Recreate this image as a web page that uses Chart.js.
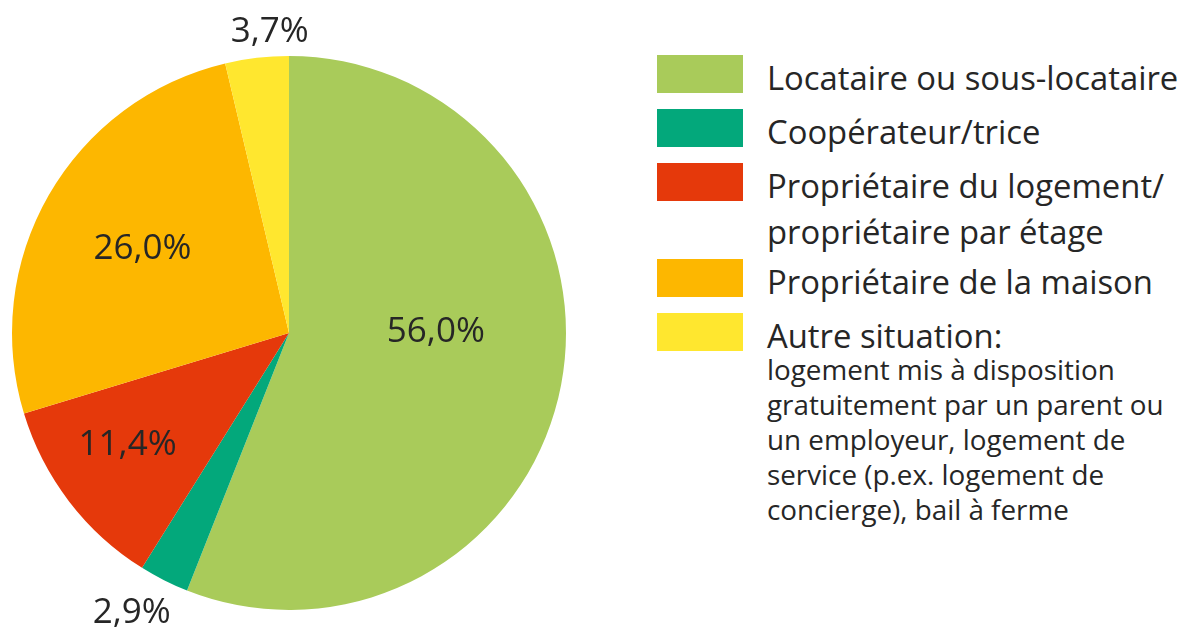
<!DOCTYPE html>
<html>
<head>
<meta charset="utf-8">
<script src="https://cdn.jsdelivr.net/npm/chart.js@4/dist/chart.umd.min.js"></script>
<style>
  body { margin: 0; background: #fff; font-family: "Open Sans", sans-serif; color: #262626; }
  #wrap { position: absolute; left: 0; top: 0; width: 600px; height: 630px; }
  .sq { position: absolute; left: 657px; width: 86px; height: 38px; }
  .lbl { position: absolute; left: 767px; font-size: 32.8px; line-height: 46px; white-space: pre-line; }
  .note { position: absolute; left: 767px; top: 352px; font-size: 27.8px; line-height: 35px; white-space: pre-line; }
</style>
</head>
<body>
<div id="wrap"><canvas id="pie"></canvas></div>
<div id="legend"></div>
<script>
var categories = [
  "Locataire ou sous-locataire",
  "Coopérateur/trice",
  "Propriétaire du logement/\npropriétaire par étage",
  "Propriétaire de la maison",
  "Autre situation:",
];
var shares = [56.0, 2.9, 11.4, 26.0, 3.7];
var noteLines = [
  "logement mis à disposition",
  "gratuitement par un parent ou",
  "un employeur, logement de",
  "service (p.ex. logement de",
  "concierge), bail à ferme",
];

var colors = ["#a9cb5a", "#03a87b", "#e5390b", "#fdb700", "#ffe72f"];
// label placement: radius factor and angle tweak (deg) per slice
var labelRadius = [0.53, 1.16, 0.71, 0.61, 1.09];
var labelTurn = [-11, 2.5, 2.6, 0, 3];
var legendTops = [55, 109, 163, 259, 313];

var legend = document.getElementById("legend");
categories.forEach(function (c, i) {
  var sq = document.createElement("div");
  sq.className = "sq";
  sq.style.top = legendTops[i] + "px";
  sq.style.background = colors[i];
  legend.appendChild(sq);
  var t = document.createElement("div");
  t.className = "lbl";
  t.style.top = legendTops[i] + "px";
  t.textContent = c;
  legend.appendChild(t);
});
var note = document.createElement("div");
note.className = "note";
note.textContent = noteLines.join("\n");
legend.appendChild(note);

var pctLabels = {
  id: "pctLabels",
  afterDatasetsDraw: function (chart) {
    var ctx = chart.ctx;
    var arcs = chart.getDatasetMeta(0).data;
    ctx.save();
    ctx.font = "35px 'Open Sans'";
    ctx.fillStyle = "#262626";
    ctx.textAlign = "center";
    ctx.textBaseline = "middle";
    arcs.forEach(function (a, i) {
      var mid = (a.startAngle + a.endAngle) / 2 + labelTurn[i] * Math.PI / 180;
      var r = a.outerRadius * labelRadius[i];
      var txt = shares[i].toFixed(1).replace(".", ",") + "%";
      ctx.fillText(txt, a.x + Math.cos(mid) * r, a.y + Math.sin(mid) * r);
    });
    ctx.restore();
  },
};

new Chart(document.getElementById("pie"), {
  type: "pie",
  data: {
    labels: categories,
    datasets: [
      {
        data: shares,
        backgroundColor: colors,
        borderWidth: 0,
      },
    ],
  },
  options: {
    responsive: true,
    maintainAspectRatio: false,
    animation: false,
    layout: { padding: { left: 12, right: 34, top: 56, bottom: 20 } },
    plugins: {
      legend: { display: false },
      tooltip: { enabled: false },
    },
  },
  plugins: [pctLabels],
});
</script>
</body>
</html>
